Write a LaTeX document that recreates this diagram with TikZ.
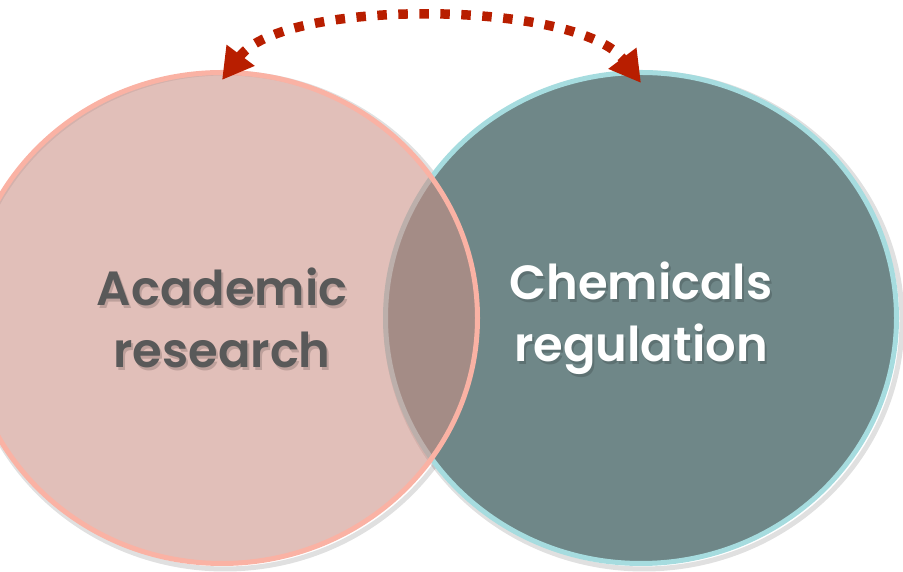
\documentclass[tikz,border=0pt]{standalone}
\usepackage{fontspec}
\newfontfamily\vennfont{Poppins}[BoldFont={Poppins SemiBold}]
\usetikzlibrary{
  arrows.meta,
  positioning,
  shapes.geometric
}
\definecolor{AcadFill}{RGB}{204,144,134}
\definecolor{AcadLine}{RGB}{250,178,164}
\definecolor{ChemFill}{RGB}{111,135,136}
\definecolor{ChemLine}{RGB}{166,220,223}
\definecolor{AcadText}{RGB}{89,89,89}
\definecolor{LinkRed}{RGB}{184,30,0}
\tikzset{
  vennset/.style={ellipse,inner sep=0pt,minimum width=511pt,minimum height=491pt,line width=5pt},
  acadset/.style={vennset,draw=AcadLine,fill=AcadFill,fill opacity=.58,draw opacity=1},
  chemset/.style={vennset,draw=ChemLine,fill=ChemFill},
  setshadow/.style={draw=black,line width=5pt,draw opacity=.12},
  vennlabel/.style={align=center,inner sep=0pt,font=\vennfont\bfseries\fontsize{48}{62}\selectfont},
  labelshade/.style={vennlabel,text=black,text opacity=.16},
  linkarrow/.style={{Triangle[length=31pt,width=33pt]}-{Triangle[length=31pt,width=33pt]},line width=9.5pt,dash pattern=on 9.5pt off 11.5pt,draw=LinkRed}
}

\begin{document}
\begin{tikzpicture}[x=1pt,y=1pt]
\useasboundingbox (0,0) rectangle (903,572);
\clip (0,0) rectangle (903,572);
\coordinate (acadc) at (222,254);
\coordinate (chemc) at (641,254);
% soft shadows under both sets
\draw[setshadow] ([shift={(3,-3)}]chemc) ellipse (258pt and 248pt);
\draw[setshadow] ([shift={(3,-3)}]acadc) ellipse (258pt and 248pt);
% the two sets, academic one on top
\node[chemset] (chem) at (chemc) {};
\node[acadset] (acad) at (acadc) {};
% labels, each over a faint shadow copy
\node[labelshade] (acadshade) at ([shift={(2,-3)}]acad.center) {Academic\\research};
\node[vennlabel,text=AcadText] (acadtxt) at (acad.center) {Academic\\research};
\node[labelshade] (chemshade) at ([shift={(2,-3)}]chem.center) {Chemicals\\regulation};
\node[vennlabel,text=white] (chemtxt) at (chem.center) {Chemicals\\regulation};
% link between the two fields
\coordinate (acadtip) at ([yshift=-10pt]acad.north);
\coordinate (chemtip) at ([yshift=-13pt]chem.north);
\draw[linkarrow] (acadtip) to[out=53,in=127,looseness=.63] (chemtip);
\end{tikzpicture}
\end{document}
